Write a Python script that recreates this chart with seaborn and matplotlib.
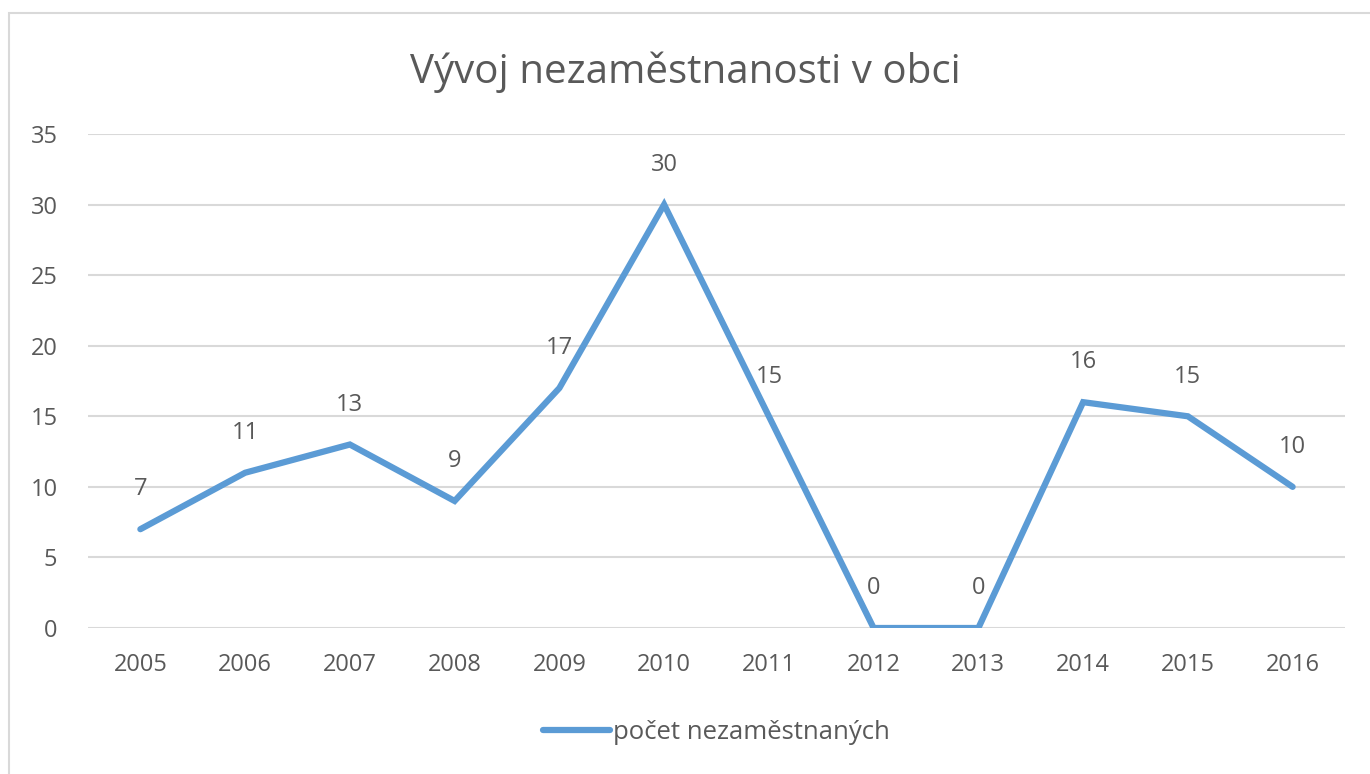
import matplotlib
matplotlib.use("Agg")
import matplotlib.pyplot as plt
import seaborn as sns
import pandas as pd
from matplotlib.patches import Rectangle

years = ["2005", "2006", "2007", "2008", "2009", "2010", "2011", "2012", "2013", "2014", "2015", "2016"]
values = [7, 11, 13, 9, 17, 30, 15, 0, 0, 16, 15, 10]
series_name = "počet nezaměstnaných"
title = "Vývoj nezaměstnanosti v obci"

sns.set_theme(style="white")
plt.rcParams['font.family'] = ['Open Sans', 'DejaVu Sans']

df = pd.DataFrame({"rok": years, "hodnota": values, "serie": series_name})

fig = plt.figure(figsize=(13.7, 7.74), dpi=100)
ax = fig.add_axes([88/1370, 1-628/774, (1345-88)/1370, (628-134)/774])

color = "#5B9BD5"
txt = "#595959"
sns.lineplot(data=df, x="rok", y="hodnota", hue="serie", palette=[color], ax=ax,
             linewidth=4.5, sort=False, solid_capstyle="round", solid_joinstyle="miter")

for i, v in enumerate(values):
    ax.annotate(str(v), (i, v), xytext=(0, 20), textcoords="offset points",
                ha="center", va="bottom", fontsize=17, color=txt)

ax.set_xlim(-0.5, len(years) - 0.5)
ax.set_ylim(0, 35)
ax.set_yticks(range(0, 36, 5))
ax.yaxis.grid(True, color="#D9D9D9", linewidth=1.5)
ax.xaxis.grid(False)
for s in ax.spines.values():
    s.set_visible(False)
ax.tick_params(axis="both", length=0, labelsize=17, labelcolor=txt)
ax.tick_params(axis="y", pad=22)
ax.tick_params(axis="x", pad=18)
ax.set_xlabel("")
ax.set_ylabel("")

leg = ax.legend(loc="center", bbox_to_anchor=(0.5, -0.212), frameon=False, fontsize=18.5,
                handlelength=2.6, handletextpad=0.15)
for t in leg.get_texts():
    t.set_color(txt)

fig.text(0.5, 1-72/774, title, ha="center", va="center", fontsize=29, color=txt)

fig.patches.append(Rectangle((9/1370, -0.1), 1.2, 1-13/774+0.1, transform=fig.transFigure,
                             fill=False, edgecolor="#D9D9D9", linewidth=1.5))

fig.savefig("out.png", dpi=100, facecolor="white")
